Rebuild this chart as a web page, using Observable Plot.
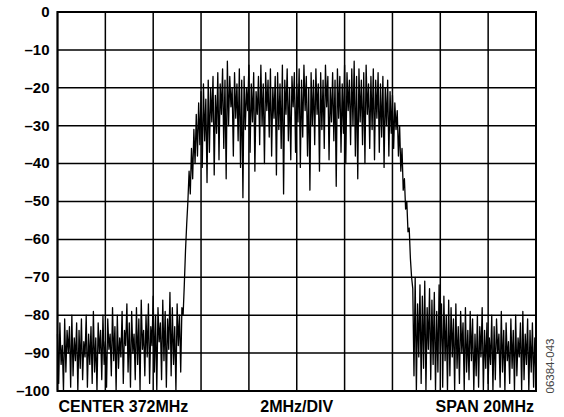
<!DOCTYPE html>
<html>
<head>
<meta charset="utf-8">
<script src="https://cdn.jsdelivr.net/npm/d3@7"></script>
<script src="https://cdn.jsdelivr.net/npm/@observablehq/plot@0.6"></script>
<style>
  html, body { margin: 0; padding: 0; background: #fff; }
  #chart svg { display: block; }
</style>
</head>
<body>
<div id="chart"></div>
<script>
// Trace amplitude (dB), in sweep order, split by region
const noiseLeft = [
  -85,-98,-82,-93,-88,-100,-81,-95,-84,-90,-83,-99,-80,-96,-86,
  -92,-82,-100,-84,-94,-81,-97,-87,-91,-80,-99,-85,-93,-83,-98,
  -79,-95,-86,-100,-82,-90,-84,-97,-80,-93,-87,-99,-81,-89,-85,
  -96,-78,-92,-83,-100,-80,-94,-86,-91,-79,-98,-84,-88,-77,-95,
  -82,-99,-79,-90,-85,-97,-78,-93,-81,-100,-76,-89,-84,-96,-80,
  -91,-77,-98,-83,-88,-75,-95,-80,-100,-78,-87,-82,-97,-76,-92,
  -79,-99,-81,-89,-74,-96,-78,-93,-83,-100,-77,-88,-80,-95,-78
];
const riseEdge = [-80,-72,-63,-56,-50,-42,-48,-36,-44,-31,-40,-27,-38,-24,-35];
const plateau = [
  -21,-41,-19,-34,-23,-45,-18,-37,-20,-29,-17,-43,-22,-32,-16,-39,
  -19,-27,-15,-36,-18,-44,-13,-30,-17,-25,-20,-38,-16,-28,-19,-34,
  -15,-41,-18,-49,-17,-31,-20,-26,-14,-37,-19,-29,-16,-42,-21,-27,
  -17,-35,-14,-30,-19,-40,-16,-26,-18,-33,-15,-38,-20,-28,-17,-43,
  -16,-31,-19,-36,-14,-48,-18,-27,-15,-34,-20,-39,-17,-25,-16,-37,
  -19,-29,-15,-41,-18,-33,-14,-26,-17,-38,-20,-47,-16,-30,-18,-35,
  -15,-27,-19,-42,-16,-31,-18,-36,-14,-25,-17,-39,-20,-29,-16,-34,
  -18,-46,-15,-28,-17,-37,-19,-32,-14,-40,-16,-26,-18,-35,-15,-30,
  -13,-38,-17,-44,-15,-29,-18,-35,-16,-40,-14,-27,-19,-36,-17,-31,
  -15,-39,-18,-28,-16,-37,-19,-33,-17,-41,-20,-30,-18,-38,-21,-32,
  -22,-36,-24,-31
];
const fallEdge = [-26,-38,-30,-42,-36,-47,-44,-52,-50,-58,-57,-65,-70];
const noiseRight = [
  -73,-96,-70,-100,-77,-91,-72,-98,-75,-94,-71,-100,-78,-89,-73,-97,
  -76,-93,-74,-100,-79,-95,-72,-90,-77,-99,-75,-92,-80,-100,-76,-96,
  -78,-91,-81,-100,-77,-94,-83,-98,-79,-90,-82,-100,-78,-95,-84,-97,
  -79,-92,-81,-100,-85,-96,-80,-99,-83,-91,-78,-100,-84,-94,-82,-98,
  -86,-93,-80,-100,-83,-97,-81,-90,-85,-99,-79,-95,-84,-100,-82,-92,
  -87,-98,-81,-94,-84,-100,-80,-96,-86,-91,-82,-100,-79,-97,-85,-93,
  -81,-100,-84,-95,-82,-99,-86,-97
];

// Axis setup
const startMHz = 362, spanMHz = 20;
const xTicks = [362,364,366,368,370,372,374,376,378,380,382];
const yTicks = [0,-10,-20,-30,-40,-50,-60,-70,-80,-90,-100];
const bottomLabels = { left: "CENTER 372MHz", mid: "2MHz/DIV", right: "SPAN 20MHz" };
const figCode = "06384-043";

const amp = [...noiseLeft, ...riseEdge, ...plateau, ...fallEdge, ...noiseRight];
const trace = amp.map((a, i) => ({ f: startMHz + i * spanMHz / (amp.length - 1), a }));

const font = "'Liberation Sans', Arial, Helvetica, sans-serif";

const chart = Plot.plot({
  width: 564,
  height: 417,
  marginLeft: 57,
  marginTop: 11.5,
  marginRight: 28.5,
  marginBottom: 26.5,
  style: { fontFamily: font, background: "#fff", color: "#000" },
  x: { domain: [startMHz, startMHz + spanMHz], axis: null },
  y: { domain: [-100, 0], axis: null },
  marks: [
    Plot.gridX(xTicks, { stroke: "#000", strokeOpacity: 1, strokeWidth: 1.5 }),
    Plot.gridY(yTicks, { stroke: "#000", strokeOpacity: 1, strokeWidth: 1.5 }),
    Plot.line(trace, { x: "f", y: "a", stroke: "#000", strokeWidth: 1.3 }),
    Plot.frame({ stroke: "#000", strokeWidth: 2 }),
    Plot.axisY(yTicks, {
      label: null, tickSize: 0, tickPadding: 8,
      tickFormat: d => d === 0 ? "0" : "\u2013" + Math.abs(d),
      fontSize: 15, fontWeight: "bold", fill: "#000"
    }),
    Plot.text([bottomLabels.left], {
      text: d => d, frameAnchor: "bottom-left", textAnchor: "start", lineAnchor: "bottom",
      dx: 1, dy: 21, fontSize: 16, fontWeight: "bold", fill: "#000"
    }),
    Plot.text([bottomLabels.mid], {
      text: d => d, frameAnchor: "bottom", textAnchor: "middle", lineAnchor: "bottom",
      dy: 21, fontSize: 16, fontWeight: "bold", fill: "#000"
    }),
    Plot.text([bottomLabels.right], {
      text: d => d, frameAnchor: "bottom-right", textAnchor: "end", lineAnchor: "bottom",
      dx: -2, dy: 21, fontSize: 16, fontWeight: "bold", fill: "#000"
    }),
    Plot.text([figCode], {
      text: d => d, frameAnchor: "bottom-right", textAnchor: "middle", lineAnchor: "middle",
      rotate: -90, dx: 14, dy: -25, fontSize: 11.5, fill: "#444"
    })
  ]
});
document.getElementById("chart").append(chart);
</script>
</body>
</html>
